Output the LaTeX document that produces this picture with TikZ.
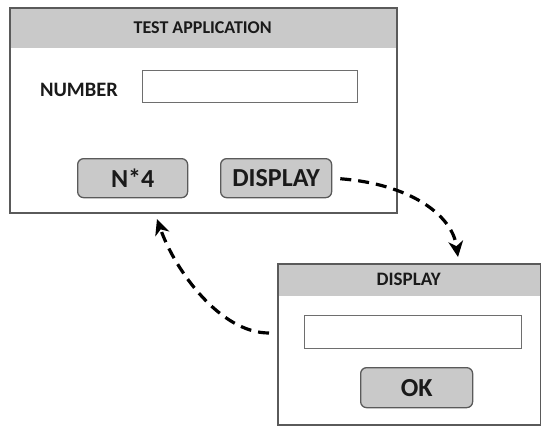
\documentclass[tikz,border=0pt]{standalone}
\usepackage{fontspec}
\setmainfont{Carlito}
\usetikzlibrary{arrows.meta}
\definecolor{bargray}{HTML}{C9C9C9}
\definecolor{edgegray}{HTML}{5A5A5A}
\definecolor{boxgray}{HTML}{6E6E6E}
\definecolor{inkgray}{HTML}{1A1A1A}
\begin{document}
\begin{tikzpicture}[x=1pt,y=-1pt,
  win/.style={draw=edgegray,line width=1.5pt,inner sep=0pt,anchor=north west},
  titlebar/.style={fill=bargray,inner sep=0pt,anchor=north west,text=inkgray,font=\bfseries\fontsize{18}{20}\selectfont},
  lbl/.style={inner sep=0pt,text=inkgray,font=\bfseries\fontsize{20.5}{22}\selectfont},
  field/.style={draw=boxgray,line width=1.3pt,fill=white,inner sep=0pt,anchor=north west},
  btn/.style={draw=edgegray,line width=1.3pt,fill=bargray,rounded corners=6pt,inner sep=0pt,anchor=north west,text=inkgray,font=\bfseries\fontsize{26}{28}\selectfont},
  flow/.style={line width=3.2pt,dash pattern=on 11pt off 7pt,-{Stealth[length=16pt,width=15pt,inset=5pt,line width=0pt]}}]
\useasboundingbox (0,0) rectangle (541,426);
% window 1
\node[titlebar,minimum width=387pt,minimum height=41pt] (t1) at (9,7) {TEST APPLICATION};
\node[win,minimum width=387pt,minimum height=205pt] (w1) at (9,7) {};
\node[lbl] (num) at (79,90) {NUMBER};
\node[field,minimum width=215pt,minimum height=32pt] (f1) at (142,70) {};
\node[btn,minimum width=110pt,minimum height=39pt] (b1) at (77,158) {N*4};
\node[btn,minimum width=111pt,minimum height=39pt] (b2) at (220,158) {DISPLAY};
% window 2
\node[titlebar,minimum width=263pt,minimum height=33pt,font=\bfseries\fontsize{19}{21}\selectfont] (t2) at (277,263) {DISPLAY};
\node[win,minimum width=263pt,minimum height=161pt] (w2) at (277,263) {};
\node[field,minimum width=217pt,minimum height=33pt] (f2) at (304,315) {};
\node[btn,minimum width=112pt,minimum height=40pt] (b3) at (360,367) {OK};
% connectors
\coordinate (e1) at (458,257);
\coordinate (s2) at (w2.west |- 0,333);
\coordinate (e2) at (157,219);
\draw[flow,shorten <=8pt] (b2.east) .. controls (410,184) and (452,215) .. (e1);
\draw[flow,shorten <=8pt] (s2) .. controls (220,333) and (175,270) .. (e2);
\end{tikzpicture}
\end{document}
